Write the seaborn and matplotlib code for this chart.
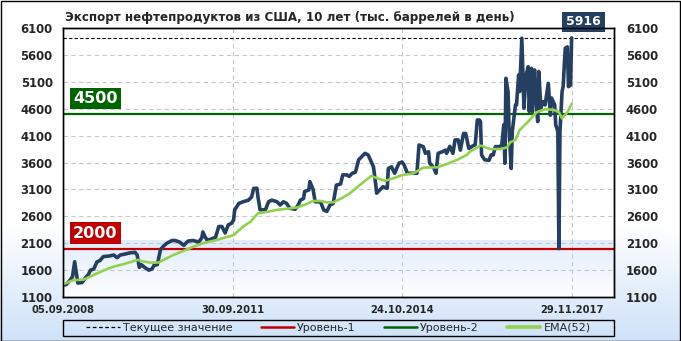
import numpy as np
import pandas as pd
import matplotlib
matplotlib.use("Agg")
import matplotlib.pyplot as plt
import matplotlib.transforms as mtransforms
from matplotlib.lines import Line2D
from matplotlib.patches import Rectangle
from matplotlib.colors import LinearSegmentedColormap
import seaborn as sns

# ---------------- data ----------------
title = "Экспорт нефтепродуктов из США, 10 лет (тыс. баррелей в день)"

# week number since 05.09.2008
export_weeks = [0, 3, 7, 9, 11, 13, 14, 18, 21, 24, 26, 29, 32, 35, 38, 43, 48, 51, 54, 59,
                63, 68, 70, 72, 74, 77, 81, 84, 86, 89, 92, 95, 98, 103, 106, 110, 114, 118, 123, 128,
                131, 132, 134, 136, 139, 144, 147, 150, 153, 156, 159, 161, 162, 166, 170, 175, 178, 180, 183, 184,
                186, 191, 194, 197, 202, 205, 208, 211, 214, 219, 222, 224, 227, 228, 232, 233, 236, 238, 243, 246,
                249, 252, 255, 258, 262, 264, 268, 270, 273, 276, 279, 282, 285, 288, 290, 293, 295, 296, 299, 302,
                306, 307, 310, 313, 317, 320, 322, 325, 329, 334, 336, 340, 342, 345, 346, 350, 352, 354, 358, 361,
                362, 365, 368, 370, 373, 375, 378, 380, 383, 386, 389, 391, 393, 394, 395, 398, 402, 404, 406, 408,
                411, 414, 416, 417, 418, 420, 421, 423, 424, 427, 428, 430, 431, 433, 434, 435, 437, 439, 440, 442,
                443, 445, 446, 448, 449, 451, 453, 455, 458, 460, 461, 464, 465, 467, 468, 469, 471, 472, 474, 476,
                477, 479, 480]
export_values = [1320, 1330, 1420, 1480, 1756, 1500, 1360, 1370, 1450, 1520, 1600, 1620, 1750, 1780, 1850, 1860, 1880, 1830, 1880, 1900,
                 1920, 1930, 1880, 1650, 1700, 1650, 1600, 1620, 1690, 1700, 1980, 2050, 2100, 2150, 2150, 2120, 2060, 2140, 2150, 2120,
                 2200, 2310, 2220, 2160, 2170, 2210, 2410, 2410, 2290, 2440, 2470, 2530, 2720, 2840, 2870, 2900, 2960, 3120, 3120, 2960,
                 2720, 2720, 2870, 2900, 2870, 2810, 2870, 2840, 2750, 2730, 2810, 2900, 2930, 3060, 3090, 3245, 3100, 2870, 2870, 2720,
                 2690, 2810, 2840, 3180, 3200, 3370, 3370, 3340, 3400, 3420, 3650, 3710, 3770, 3740, 3650, 3520, 3215, 3030, 3090, 3150,
                 3120, 3490, 3520, 3400, 3585, 3610, 3550, 3400, 3400, 3400, 3925, 3895, 3770, 3800, 3590, 3500, 3400, 3770, 3800, 3830,
                 3770, 3900, 3770, 4020, 4020, 3830, 4140, 4140, 3860, 3900, 3930, 4390, 4390, 4360, 3740, 3650, 3640, 3740, 3740, 3895,
                 3895, 3910, 4300, 3585, 5165, 4920, 4175, 3490, 4175, 4670, 4670, 5225, 4920, 5910, 5225, 4610, 5225, 5380, 4550, 5350,
                 4545, 5320, 4920, 4360, 5290, 4610, 4730, 4670, 5070, 4480, 4800, 4670, 4300, 4175, 2000, 4175, 4920, 5010, 5725, 5750,
                 5010, 5040, 5916]

ema_weeks = [0, 10, 19, 29, 38, 48, 57, 65, 70, 76, 82, 90, 95, 104, 114, 123, 132, 145, 161, 170,
             177, 184, 192, 202, 211, 221, 230, 236, 243, 249, 255, 263, 271, 280, 291, 296, 304, 312, 321, 331,
             340, 353, 362, 372, 381, 384, 394, 403, 413, 419, 422, 427, 431, 439, 447, 455, 463, 468, 471, 476, 480]
ema_values = [1336, 1416, 1420, 1510, 1590, 1665, 1710, 1756, 1790, 1760, 1740, 1740, 1790, 1880, 1960, 2035, 2100, 2160, 2250, 2410,
              2500, 2655, 2680, 2720, 2740, 2765, 2830, 2885, 2885, 2860, 2860, 2935, 3030, 3180, 3350, 3310, 3260, 3310, 3370, 3400,
              3505, 3510, 3570, 3650, 3740, 3800, 3915, 3850, 3850, 3880, 3975, 4020, 4205, 4360, 4535, 4590, 4580, 4535, 4420, 4535, 4690]

level1 = 2000
level2 = 4500
current_value = 5916

x_tick_weeks = [0, 160, 320, 480]
x_tick_labels = ["05.09.2008", "30.09.2011", "24.10.2014", "29.11.2017"]
y_ticks = [1100, 1600, 2100, 2600, 3100, 3600, 4100, 4600, 5100, 5600, 6100]
legend_labels = ["Текущее значение", "Уровень-1", "Уровень-2", "EMA(52)"]

# ---------------- style ----------------
sns.set_style("white")
plt.rcParams["font.family"] = ["DejaVu Sans"]

NAVY = "#243f60"
RED = "#c00000"
DGREEN = "#006400"
LGREEN = "#92d050"

W, H = 681, 341
fig = plt.figure(figsize=(W / 100, H / 100), dpi=100)

# figure background gradient (white on top, light blue at bottom)
bg = fig.add_axes([0, 0, 1, 1], zorder=-10)
grad = np.linspace(0, 1, 341).reshape(-1, 1)
cmap_bg = LinearSegmentedColormap.from_list(
    "bg", [(0.0, "#ffffff"), (0.66, "#ffffff"), (1.0, "#cfe2f8")])
bg.imshow(grad, aspect="auto", cmap=cmap_bg, extent=[0, 1, 0, 1], origin="upper")
bg.set_axis_off()
fig.patches.append(Rectangle((0.5 / W, 0.5 / H), 1 - 1.5 / W, 1 - 1.5 / H, transform=fig.transFigure,
                             fill=False, ec="black", lw=1.0))

left, right, top, bottom = 63, 614, 28, 297
ax = fig.add_axes([left / W, 1 - bottom / H, (right - left) / W, (bottom - top) / H])
ax.set_facecolor("white")

# plot area gradient at bottom
cmap_pa = LinearSegmentedColormap.from_list("pa", ["#ffffff", "#e1ecfa"])
ax.imshow(np.linspace(0, 1, 128).reshape(-1, 1), aspect="auto", cmap=cmap_pa,
          extent=[0, 520, 2150, 1100], origin="upper", zorder=0)
ax.set_xlim(0, 520)
ax.set_ylim(1100, 6100)

# grid
for yv in y_ticks[1:-1]:
    ax.axhline(yv, color="#c8c8c8", lw=0.8, ls=(0, (4, 3)), zorder=1)
for xv in x_tick_weeks[1:]:
    ax.axvline(xv, color="#c8c8c8", lw=0.8, ls=(0, (4, 3)), zorder=1)

# level lines
ax.axhline(current_value, color="black", lw=0.8, ls=(0, (3, 2)), zorder=2)
ax.axhline(level1, color=RED, lw=1.6, zorder=2)
ax.axhline(level2, color=DGREEN, lw=1.6, zorder=2)

df_exp = pd.DataFrame({"week": export_weeks, "value": export_values})
df_ema = pd.DataFrame({"week": ema_weeks, "value": ema_values})

sns.lineplot(data=df_exp, x="week", y="value", color=NAVY, lw=2.6, ax=ax, zorder=4,
             solid_joinstyle="round", solid_capstyle="round")
sns.lineplot(data=df_ema, x="week", y="value", color=LGREEN, lw=1.9, ax=ax, zorder=5)

ax.set_xlabel("")
ax.set_ylabel("")

# ticks
ax.set_xticks(x_tick_weeks)
ax.set_xticklabels(x_tick_labels, fontsize=7.2, fontweight="bold")
ax.set_yticks(y_ticks)
ax.set_yticklabels([str(v) for v in y_ticks], fontsize=8.4, fontweight="bold")
ax.tick_params(axis="y", length=0, pad=7.5)
ax.tick_params(axis="x", length=0, pad=6)

# right-hand labels
axr = ax.twinx()
axr.set_ylim(ax.get_ylim())
axr.set_yticks(y_ticks)
axr.set_yticklabels([str(v) for v in y_ticks], fontsize=8.4, fontweight="bold")
axr.tick_params(axis="y", length=0, pad=8.5)
axr.grid(False)

for a in (ax, axr):
    for sp in a.spines.values():
        sp.set_color("black")
        sp.set_linewidth(1.0)
        sp.set_visible(True)

# level labels
trans = mtransforms.blended_transform_factory(ax.transAxes, ax.transData)
for lvl, col in [(level2, DGREEN), (level1, RED)]:
    ax.annotate(f"{lvl}", xy=(0, lvl), xycoords=trans, xytext=(10, 8), textcoords="offset pixels",
                ha="left", va="bottom", color="white", fontsize=11.5, fontweight="bold",
                bbox=dict(boxstyle="square,pad=0.2", fc=col, ec="none"), zorder=6)

# current value label
ax.annotate(f"{current_value}", xy=(export_weeks[-1], current_value), xytext=(12, 16),
            textcoords="offset pixels", ha="center", va="center", color="white",
            fontsize=9, fontweight="bold", annotation_clip=False,
            bbox=dict(boxstyle="square,pad=0.3", fc=NAVY, ec="none"), zorder=7)

# title
fig.text(65 / W, 1 - 17 / H, title, ha="left", va="center", fontsize=8.6, fontweight="bold")

# legend
fig.patches.append(Rectangle((left / W, 1 - 336 / H), (right - left) / W, 16 / H,
                             transform=fig.transFigure, fill=False, ec="black", lw=1.0))
handles = [Line2D([], [], color="black", lw=0.9, ls=(0, (3, 2))),
           Line2D([], [], color=RED, lw=1.8),
           Line2D([], [], color=DGREEN, lw=1.8),
           Line2D([], [], color=LGREEN, lw=2.6)]
fig.legend(handles, legend_labels, loc="center", bbox_to_anchor=((left + right) / 2 / W, 1 - 328 / H),
           ncol=4, frameon=False, fontsize=8, handlelength=3.0, handletextpad=0.3, columnspacing=2.5,
           borderpad=0, borderaxespad=0)

fig.savefig("out.png", dpi=100)
